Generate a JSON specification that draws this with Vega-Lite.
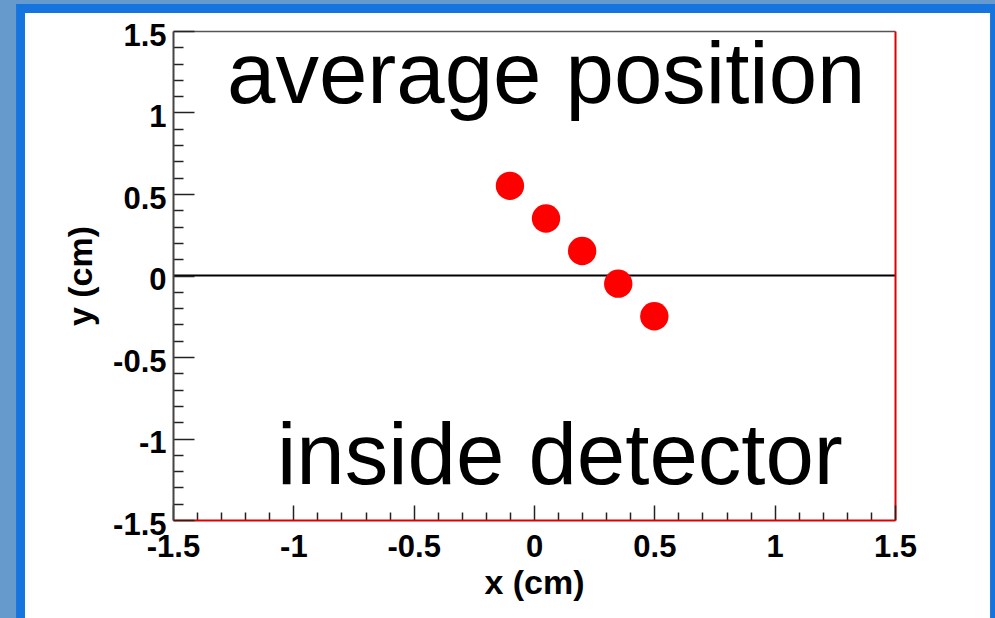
{
  "$schema": "https://vega.github.io/schema/vega-lite/v6.json",
  "width": 722,
  "height": 489,
  "autosize": {"type": "none"},
  "padding": {"left": 173, "top": 31, "right": 100, "bottom": 98},
  "background": "#6699cc",
  "config": {"view": {"stroke": null}},
  "resolve": {"axis": {"x": "independent", "y": "independent"}},
  "layer": [
    {
      "data": {"values": [{}]},
      "mark": {"type": "rect", "fill": "#1574de"},
      "encoding": {
        "x": {"datum": -2.152, "type": "quantitative", "scale": {"domain": [-1.5, 1.5], "nice": false, "zero": false}, "axis": null},
        "x2": {"datum": 3},
        "y": {"datum": 1.666, "type": "quantitative", "scale": {"domain": [-1.5, 1.5], "nice": false, "zero": false}, "axis": null},
        "y2": {"datum": -3}
      }
    },
    {
      "data": {"values": [{}]},
      "mark": {"type": "rect", "fill": "#ffffff"},
      "encoding": {
        "x": {"datum": -2.115, "type": "quantitative", "axis": null},
        "x2": {"datum": 1.895},
        "y": {"datum": 1.61, "type": "quantitative", "axis": null},
        "y2": {"datum": -3}
      }
    },
    {
      "data": {"values": [{}]},
      "mark": {"type": "rule", "color": "#000000", "strokeWidth": 2},
      "encoding": {
        "y": {"datum": 0, "type": "quantitative", "axis": {"orient": "right", "title": null, "ticks": false, "labels": false, "grid": false, "domainColor": "#dd0000", "domainWidth": 2, "zindex": 1}}
      }
    },
    {
      "data": {"values": [
        {"x": -0.1, "y": 0.55},
        {"x": 0.05, "y": 0.35},
        {"x": 0.2, "y": 0.15},
        {"x": 0.35, "y": -0.05},
        {"x": 0.5, "y": -0.25}
      ]},
      "mark": {"type": "circle", "size": 804, "color": "#ff0000", "opacity": 1},
      "encoding": {
        "x": {
          "field": "x", "type": "quantitative",
          "axis": {
            "orient": "bottom",
            "values": [-1.5, -1, -0.5, 0, 0.5, 1, 1.5],
            "labelExpr": "'' + datum.value",
            "labelOverlap": false,
            "labelFlush": false,
            "ticks": true,
            "tickSize": -15,
            "tickColor": "#222222",
            "tickWidth": 1.5,
            "domainColor": "#dd0000",
            "domainWidth": 2,
            "grid": false,
            "labelFont": "Liberation Sans",
            "labelFontWeight": "bold",
            "labelFontSize": 31,
            "labelColor": "#000000",
            "labelPadding": 27,
            "title": "x (cm)",
            "titleFont": "Liberation Sans",
            "titleFontWeight": "bold",
            "titleFontSize": 34,
            "titleColor": "#000000",
            "titleX": 361,
            "titleY": 73,
            "titleAlign": "center",
            "titleBaseline": "alphabetic",
            "zindex": 2
          }
        },
        "y": {
          "field": "y", "type": "quantitative",
          "axis": {
            "orient": "left",
            "values": [-1.5, -1, -0.5, 0, 0.5, 1, 1.5],
            "labelExpr": "'' + datum.value",
            "labelOverlap": false,
            "labelFlush": false,
            "ticks": true,
            "tickSize": -21,
            "tickColor": "#222222",
            "tickWidth": 1.5,
            "domainColor": "#444444",
            "domainWidth": 2,
            "grid": false,
            "labelFont": "Liberation Sans",
            "labelFontWeight": "bold",
            "labelFontSize": 31,
            "labelColor": "#000000",
            "labelPadding": 28,
            "labelOffset": 5,
            "title": "y (cm)",
            "titleFont": "Liberation Sans",
            "titleFontWeight": "bold",
            "titleFontSize": 34,
            "titleColor": "#000000",
            "titleAngle": 270,
            "titleX": -82,
            "titleY": 244.5,
            "titleAlign": "center",
            "titleBaseline": "alphabetic",
            "zindex": 2
          }
        }
      }
    },
    {
      "data": {"values": [{}]},
      "mark": {"type": "text", "text": "average position", "font": "Liberation Sans", "fontSize": 87, "align": "left", "baseline": "alphabetic", "color": "#000000"},
      "encoding": {
        "x": {"datum": -1.2756, "type": "quantitative", "axis": {"orient": "top", "title": null, "ticks": false, "labels": false, "grid": false, "domainColor": "#555555", "domainWidth": 1.5, "zindex": 1}},
        "y": {"datum": 1.058, "type": "quantitative", "axis": null}
      }
    },
    {
      "data": {"values": [{}]},
      "mark": {"type": "text", "text": "inside detector", "font": "Liberation Sans", "fontSize": 87, "align": "left", "baseline": "alphabetic", "color": "#000000"},
      "encoding": {
        "x": {
          "datum": -1.068, "type": "quantitative",
          "axis": {
            "orient": "bottom",
            "values": [-1.4,-1.3,-1.2,-1.1,-0.9,-0.8,-0.7,-0.6,-0.4,-0.3,-0.2,-0.1,0.1,0.2,0.3,0.4,0.6,0.7,0.8,0.9,1.1,1.2,1.3,1.4],
            "labels": false, "domain": false, "grid": false, "title": null,
            "ticks": true, "tickSize": -8, "tickColor": "#222222", "tickWidth": 1.5, "zindex": 1
          }
        },
        "y": {
          "datum": -1.279, "type": "quantitative",
          "axis": {
            "orient": "left",
            "values": [-1.4,-1.3,-1.2,-1.1,-0.9,-0.8,-0.7,-0.6,-0.4,-0.3,-0.2,-0.1,0.1,0.2,0.3,0.4,0.6,0.7,0.8,0.9,1.1,1.2,1.3,1.4],
            "labels": false, "domain": false, "grid": false, "title": null,
            "ticks": true, "tickSize": -10, "tickColor": "#222222", "tickWidth": 1.5, "zindex": 1
          }
        }
      }
    }
  ]
}
